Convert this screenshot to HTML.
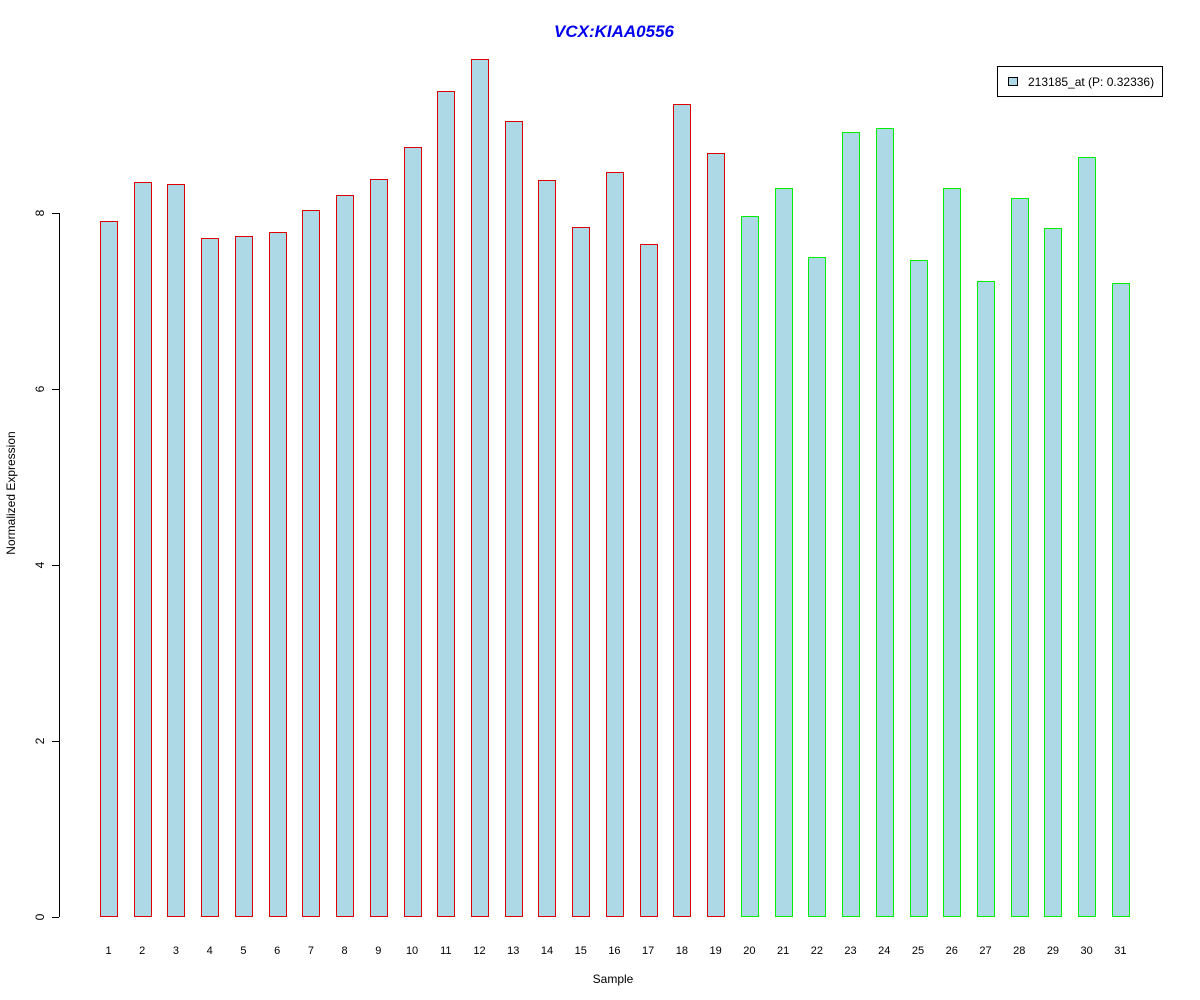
<!DOCTYPE html>
<html><head><meta charset="utf-8"><style>body{margin:0;background:#fff}svg{display:block}text{font-family:"Liberation Sans",sans-serif}</style></head>
<body>
<svg id="s" width="1200" height="1000" xmlns="http://www.w3.org/2000/svg">
<rect width="1200" height="1000" fill="#fff"/>
<text x="614" y="37" text-anchor="middle" font-size="17" font-weight="bold" font-style="italic" fill="#0000ee">VCX:KIAA0556</text>
<text x="613" y="983" text-anchor="middle" font-size="12">Sample</text>
<text transform="translate(15,493) rotate(-90)" text-anchor="middle" font-size="12">Normalized Expression</text>
<line x1="59.5" y1="213" x2="59.5" y2="917" stroke="#000"/>
<g id="yt"></g>
<g id="bars"></g>
<rect x="997.5" y="66.5" width="165" height="30" fill="#fff" stroke="#000"/>
<rect x="1008.5" y="77.5" width="9" height="8" fill="#add8e6" stroke="#000"/>
<text x="1028" y="86" font-size="12">213185_at (P: 0.32336)</text>
</svg>
<script>
var s=document.getElementById('bars'),y=document.getElementById('yt'),ns='http://www.w3.org/2000/svg';
function el(p,t,a,tx){var e=document.createElementNS(ns,t);for(var k in a)e.setAttribute(k,a[k]);if(tx)e.textContent=tx;p.appendChild(e);}
for(var i=0;i<=4;i++){var yy=917-i*2*88;el(y,'line',{x1:52,y1:yy+0.5,x2:59,y2:yy+0.5,stroke:'#000'});
el(y,'text',{transform:'translate(44,'+yy+') rotate(-90)','text-anchor':'middle','font-size':12},String(i*2));}
var tops=[221,182,184,238,236,232,210,195,179,147,91,59,121,180,227,172,244,104,153,216,188,257,132,128,260,188,281,198,228,157,283];
for(var i=0;i<31;i++){var cx=108.5+i*33.73,x=Math.round(cx-8.5)+0.5;
el(s,'rect',{x:x,y:tops[i]+0.5,width:17,height:916-tops[i],fill:'#add8e6',stroke:i<19?'#dd0000':'#00ee00'});
el(s,'text',{x:cx,y:954,'text-anchor':'middle','font-size':11},String(i+1));}
</script>
</body></html>
